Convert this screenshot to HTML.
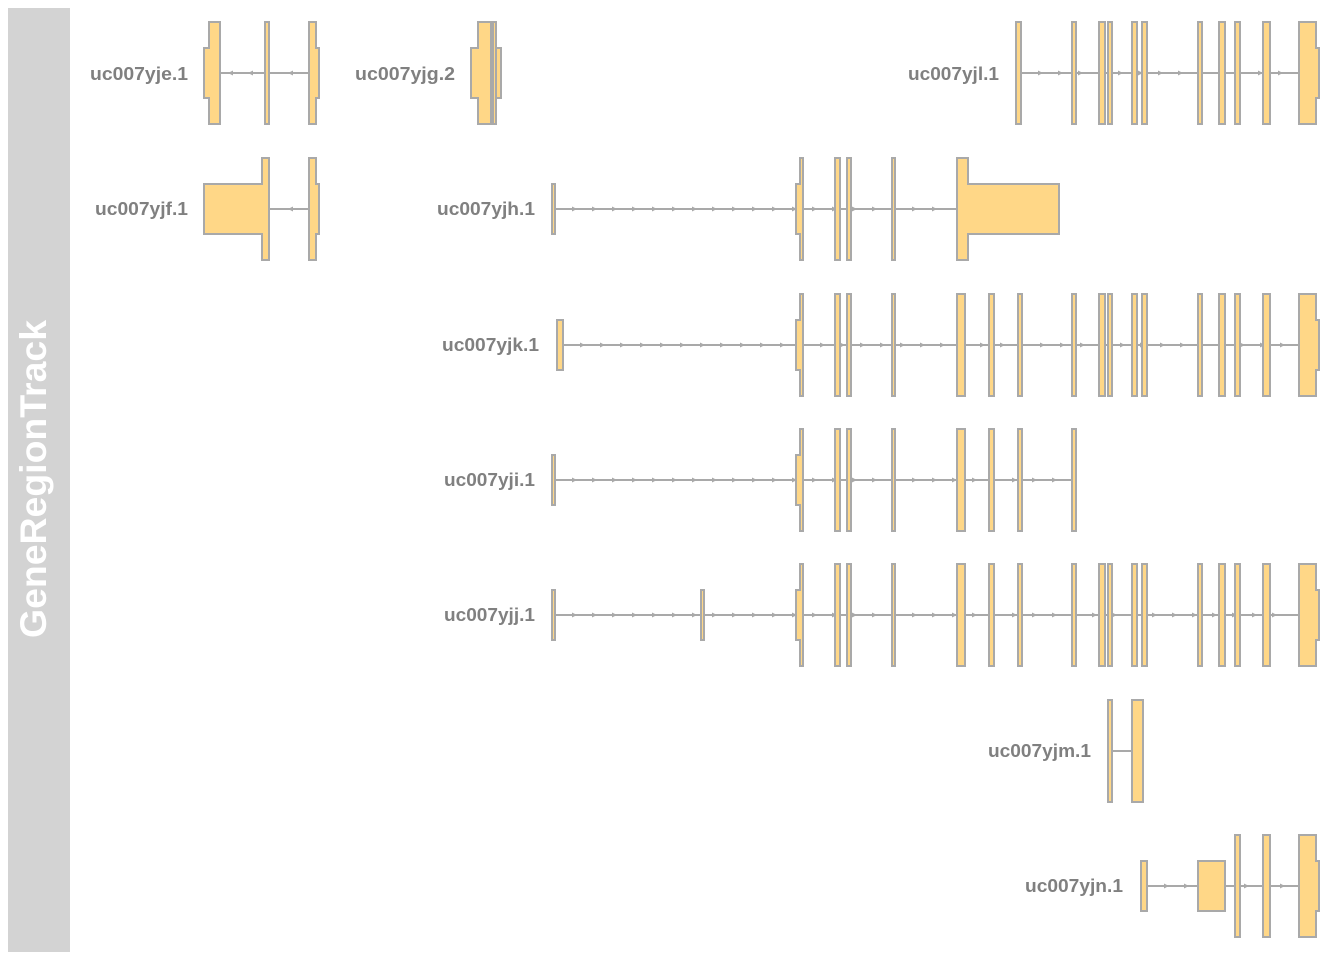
<!DOCTYPE html>
<html><head><meta charset="utf-8"><style>
html,body{margin:0;padding:0;background:#fff;}
svg{display:block;}
text{font-family:"Liberation Sans",sans-serif;font-weight:bold;}
</style></head><body>
<svg id="s" width="1344" height="960" xmlns="http://www.w3.org/2000/svg">
<rect x="8" y="8" width="62" height="944" fill="#d3d3d3"/>
<text x="0" y="0" transform="translate(46,479) rotate(-90)" text-anchor="middle" font-size="37" fill="#ffffff" textLength="318" lengthAdjust="spacingAndGlyphs">GeneRegionTrack</text>
<g font-size="18" fill="#808080" lengthAdjust="spacingAndGlyphs">
<text x="90" y="80" textLength="98" lengthAdjust="spacingAndGlyphs">uc007yje.1</text>
<text x="355" y="80" textLength="100" lengthAdjust="spacingAndGlyphs">uc007yjg.2</text>
<text x="908" y="80" textLength="91" lengthAdjust="spacingAndGlyphs">uc007yjl.1</text>
<text x="95" y="215" textLength="93" lengthAdjust="spacingAndGlyphs">uc007yjf.1</text>
<text x="437" y="215" textLength="98" lengthAdjust="spacingAndGlyphs">uc007yjh.1</text>
<text x="442" y="351" textLength="97" lengthAdjust="spacingAndGlyphs">uc007yjk.1</text>
<text x="444" y="486" textLength="91" lengthAdjust="spacingAndGlyphs">uc007yji.1</text>
<text x="444" y="621" textLength="91" lengthAdjust="spacingAndGlyphs">uc007yjj.1</text>
<text x="988" y="757" textLength="103" lengthAdjust="spacingAndGlyphs">uc007yjm.1</text>
<text x="1025" y="892" textLength="98" lengthAdjust="spacingAndGlyphs">uc007yjn.1</text>
</g>
<g id="g"></g>
</svg>
<script>
var g=document.getElementById('g'),NS='http://www.w3.org/2000/svg';
function el(t,a){var e=document.createElementNS(NS,t);for(var k in a)e.setAttribute(k,a[k]);g.appendChild(e);return e;}
function line(y,x1,x2,arrows,dir){el('line',{x1:x1,y1:y,x2:x2,y2:y,stroke:'#a9a9a9','stroke-width':2});
 arrows.forEach(function(x){var p=dir>0?[x-3,y-2.5,x+2,y,x-3,y+2.5]:[x+3,y-2.5,x-2,y,x+3,y+2.5];el('polygon',{points:p.join(' '),fill:'#a9a9a9'});});}
function exon(y,segs){var top=[],bot=[];segs.forEach(function(s){top.push([s[0],y-s[2]],[s[1],y-s[2]]);bot.unshift([s[1],y+s[2]],[s[0],y+s[2]]);});
 var pts=top.concat(bot).map(function(p){return p.join(',')}).join(' ');
 el('polygon',{points:pts,fill:'#ffd787',stroke:'#a9a9a9','stroke-width':2});}
function row(y,exons,lx1,lx2,dir){var arr=[];for(var x=lx1+20;x<lx2-5;x+=20)arr.push(x);line(y,lx1,lx2,arr,dir);exons.forEach(function(e){exon(y,e);});}
var F=51,U=25;
var tail=[[[1072,1076,F]],[[1099,1105,F]],[[1108,1112,F]],[[1132,1137,F]],[[1142,1147,F]],[[1198,1202,F]],[[1219,1225,F]],[[1235,1240,F]],[[1263,1270,F]],[[1299,1316,F],[1316,1319,U]]];
var mid=[[[796,800,U],[800,803,F]],[[835,840,F]],[[847,851,F]],[[892,895,F]],[[957,965,F]],[[989,994,F]],[[1018,1022,F]]];
line(73,220,309,[230,250,290],-1);
exon(73,[[204,209,U],[209,220,F]]);exon(73,[[265,269,F]]);exon(73,[[309,316,F],[316,319,U]]);
exon(73,[[471,478,U],[478,491,F]]);exon(73,[[493,496,F]]);exon(73,[[496,501,U]]);
row(73,[[[1016,1021,F]]].concat(tail),1021,1299,1);
line(209,269,309,[290],-1);
exon(209,[[204,262,U],[262,269,F]]);exon(209,[[309,316,F],[316,319,U]]);
row(209,[[[552,555,U]],[[796,800,U],[800,803,F]],[[835,840,F]],[[847,851,F]],[[892,895,F]],[[957,968,F],[968,1059,U]]],555,957,1);
row(345,[[[557,563,U]]].concat(mid,tail),563,1299,1);
row(480,[[[552,555,U]]].concat(mid,[[[1072,1076,F]]]),555,1074,1);
row(615,[[[552,555,U]],[[701,704,U]]].concat(mid,tail),555,1299,1);
line(751,1112,1132,[],1);exon(751,[[1108,1112,F]]);exon(751,[[1132,1143,F]]);
line(886,1147,1299,[1167,1187,1247,1283],1);
exon(886,[[1141,1147,U]]);exon(886,[[1198,1225,U]]);exon(886,[[1235,1240,F]]);exon(886,[[1263,1270,F]]);exon(886,[[1299,1316,F],[1316,1319,U]]);
</script>
</body></html>
